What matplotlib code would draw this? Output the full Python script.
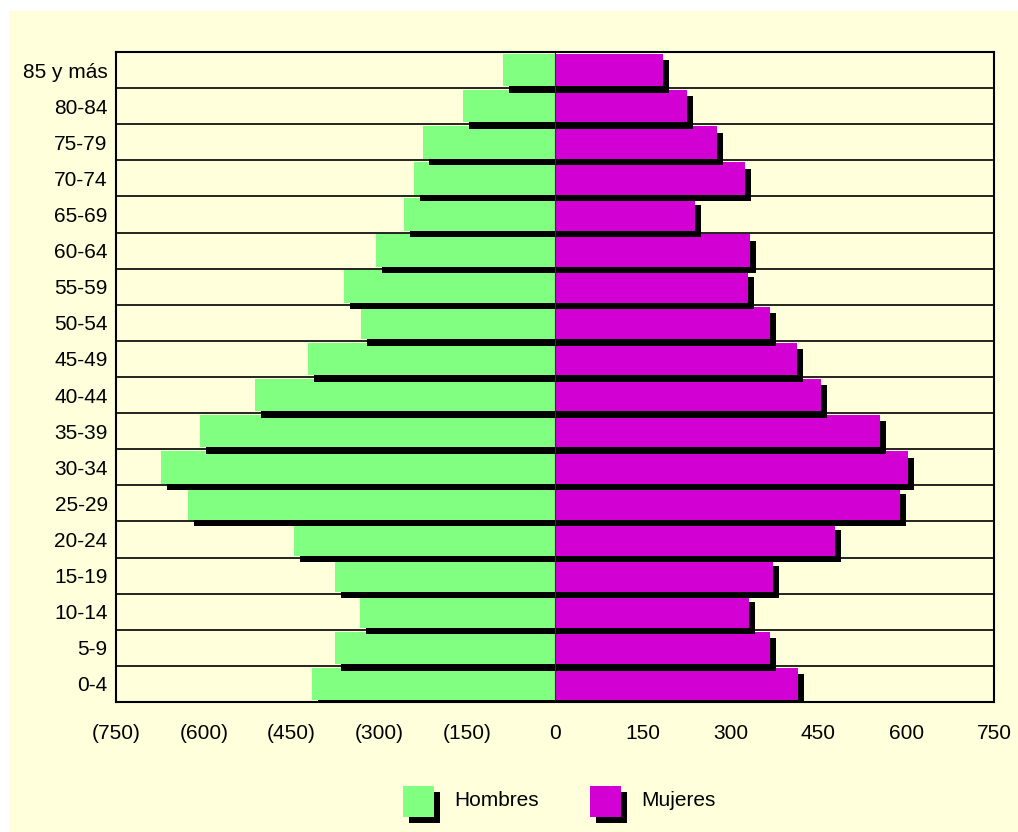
import matplotlib
matplotlib.use("Agg")
import matplotlib.pyplot as plt
import matplotlib.transforms as mtransforms
from matplotlib.patches import Rectangle
from matplotlib.ticker import FuncFormatter, FixedLocator
import numpy as np

# age groups, bottom to top
age_groups = ["0-4", "5-9", "10-14", "15-19", "20-24", "25-29", "30-34",
              "35-39", "40-44", "45-49", "50-54", "55-59", "60-64",
              "65-69", "70-74", "75-79", "80-84", "85 y más"]
hombres = [415, 376, 333, 376, 446, 627, 673, 606, 512, 422, 331, 360,
           306, 258, 241, 225, 157, 89]
mujeres = [415, 367, 331, 372, 478, 589, 603, 555, 454, 413, 367, 330,
           333, 240, 325, 277, 225, 184]
x_ticks = [-750, -600, -450, -300, -150, 0, 150, 300, 450, 600, 750]

plt.rcParams["font.family"] = ["Liberation Sans", "DejaVu Sans"]

bg = "#FFFFDB"
green = "#80FF80"
magenta = "#D200D2"
fs = 15

W, H = 1018, 832
fig = plt.figure(figsize=(W / 100, H / 100), dpi=100)
fig.patch.set_facecolor("white")
# yellow chart area, white strip on top and left
fig.add_artist(Rectangle((9 / W, 0), 1 - 9 / W, 1 - 11 / H,
                         transform=fig.transFigure, facecolor=bg,
                         edgecolor="none", zorder=-10))

ax = fig.add_axes([116 / W, 1 - 702 / H, (994 - 116) / W, (702 - 52) / H])
ax.set_facecolor(bg)

n = len(hombres)
y = np.arange(n)
# drop shadow: a few pixels right and down
shift = mtransforms.ScaledTranslation(6 / 100, -6.5 / 100, fig.dpi_scale_trans)
shadow_trans = ax.transData + shift

# upper groups drawn later, so their shadow lies over the bar below
for i in range(n):
    z = 3 + 2 * i
    ax.barh(y[i], -hombres[i], height=0.9, color="black", zorder=z,
            transform=shadow_trans)
    ax.barh(y[i], mujeres[i], height=0.9, color="black", zorder=z,
            transform=shadow_trans)
    ax.barh(y[i], -hombres[i], height=0.9, color=green, zorder=z + 1)
    ax.barh(y[i], mujeres[i], height=0.9, color=magenta, zorder=z + 1)

ax.axvline(0, color="#303030", lw=0.8, zorder=100)

ax.set_xlim(-750, 750)
ax.set_ylim(-0.5, n - 0.5)
ax.set_xticks(x_ticks)
ax.xaxis.set_major_formatter(FuncFormatter(
    lambda v, p: f"({abs(int(v))})" if v < 0 else f"{int(v)}"))
ax.set_yticks(y)
ax.set_yticklabels(age_groups)
ax.yaxis.set_minor_locator(FixedLocator(np.arange(n - 1) + 0.5))
ax.grid(which="minor", axis="y", color="black", lw=1.2, zorder=0)
ax.set_axisbelow(True)
ax.tick_params(axis="both", which="both", length=0, labelsize=fs)
ax.tick_params(axis="y", pad=6)
ax.tick_params(axis="x", pad=16)
for s in ax.spines.values():
    s.set_linewidth(1.5)
    s.set_color("black")
    s.set_zorder(200)


# legend drawn by hand with the same shadows
def legend_item(x0, color, label):
    sz = 31
    y0 = 786
    fig.add_artist(Rectangle(((x0 + 6) / W, 1 - (y0 + sz + 6) / H), sz / W, sz / H,
                             transform=fig.transFigure, facecolor="black",
                             edgecolor="none"))
    fig.add_artist(Rectangle((x0 / W, 1 - (y0 + sz) / H), sz / W, sz / H,
                             transform=fig.transFigure, facecolor=color,
                             edgecolor="none"))
    fig.text((x0 + 51) / W, 1 - 800 / H, label, fontsize=fs,
             va="center", ha="left")


legend_item(403, green, "Hombres")
legend_item(590, magenta, "Mujeres")

fig.savefig("out.png", dpi=100, facecolor=fig.get_facecolor())
plt.close(fig)
